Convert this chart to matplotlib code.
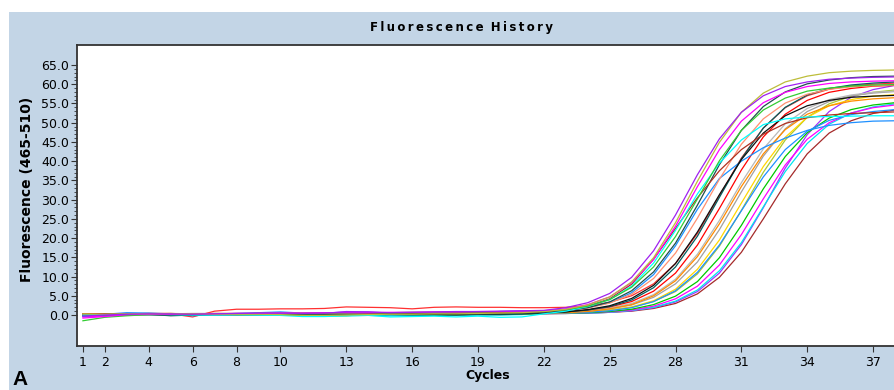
import matplotlib
matplotlib.use('Agg')
import matplotlib.pyplot as plt
from matplotlib.patches import Rectangle
from matplotlib.ticker import FormatStrFormatter

# cycles and fluorescence readings (465-510) per well
cycles = list(range(1, 39))

purple = [-0.3, 0.0, 0.2, 0.3, 0.3, 0.2, 0.3, 0.4, 0.5, 0.5, 0.4, 0.5, 0.8, 0.8, 0.6, 0.7, 0.8, 0.9, 0.9, 1.0, 1.1,
          1.2, 1.9, 3.2, 5.6, 9.8, 16.7, 26.0, 36.5, 45.8, 52.7, 57.0, 59.4, 60.6, 61.3, 61.6, 61.8, 61.9]
olive = [0.3, 0.2, 0.3, 0.3, 0.4, 0.3, 0.2, 0.2, 0.2, 0.1, -0.1, -0.1, 0.0, 0.1, 0.2, 0.2, 0.3, 0.3, 0.4, 0.5, 0.6,
         0.9, 1.5, 2.6, 4.7, 8.6, 14.9, 24.0, 34.8, 44.9, 52.7, 57.7, 60.6, 62.1, 63.0, 63.4, 63.6, 63.7]
magenta = [-0.8, -0.4, 0.1, 0.2, 0.2, 0.3, 0.3, 0.4, 0.4, 0.5, 0.5, 0.6, 0.6, 0.6, 0.7, 0.7, 0.8, 0.8, 0.9, 0.9, 1.0,
           1.1, 1.6, 2.7, 4.7, 8.4, 14.4, 23.1, 33.4, 43.0, 50.4, 55.2, 57.9, 59.4, 60.2, 60.6, 60.8, 60.9]
green = [-1.5, -0.6, -0.2, 0.1, 0.2, 0.3, 0.3, 0.3, 0.4, 0.4, 0.4, 0.5, 0.5, 0.6, 0.6, 0.7, 0.7, 0.8, 0.8, 0.9, 0.9,
         1.0, 1.4, 2.3, 4.0, 7.2, 12.5, 20.4, 30.2, 40.1, 48.0, 53.3, 56.4, 58.2, 59.0, 59.5, 59.8, 59.9]
cyan = [0.0, 0.1, 0.2, 0.2, 0.1, 0.0, 0.0, 0.1, 0.0, -0.1, -0.4, -0.4, -0.2, -0.1, -0.5, -0.4, -0.3, -0.5, -0.3, -0.6, -0.5,
        0.3, 1.0, 2.2, 4.0, 7.5, 13.5, 22.0, 31.5, 39.5, 45.5, 49.5, 51.0, 51.5, 51.6, 51.7, 51.8, 51.8]
brown = [0.2, 0.3, 0.3, 0.2, 0.2, 0.3, 0.3, 0.3, 0.4, 0.4, 0.4, 0.5, 0.5, 0.5, 0.6, 0.6, 0.6, 0.7, 0.7, 0.7, 0.8,
         0.9, 1.4, 2.3, 4.2, 8.0, 14.5, 22.5, 30.5, 37.5, 43.0, 47.0, 49.8, 51.3, 52.0, 52.4, 52.6, 52.8]
slate = [0.0, 0.2, 0.2, 0.2, -0.2, 0.0, 0.1, 0.1, 0.1, 0.2, 0.2, 0.2, 0.1, 0.2, 0.2, 0.3, 0.3, 0.3, 0.2, 0.3, 0.5,
         0.7, 1.1, 1.9, 3.4, 6.3, 11.2, 18.7, 28.6, 39.1, 48.0, 54.2, 58.0, 60.1, 61.1, 61.7, 62.0, 62.1]
salmon = [0.1, 0.2, 0.3, 0.2, 0.3, 0.3, 0.4, 0.4, 0.4, 0.5, 0.5, 0.5, 0.5, 0.6, 0.6, 0.6, 0.6, 0.7, 0.7, 0.7, 0.8,
          0.8, 1.2, 1.8, 3.1, 5.4, 9.5, 16.1, 25.2, 35.3, 44.4, 51.0, 55.1, 57.4, 58.7, 59.3, 59.6, 59.8]
black = [0.0, 0.1, 0.1, 0.2, 0.2, 0.1, 0.2, 0.2, 0.2, 0.3, 0.3, 0.2, 0.1, 0.2, 0.3, 0.2, 0.2, 0.1, 0.2, 0.3, 0.5,
         0.6, 0.8, 1.4, 2.4, 4.3, 7.7, 13.4, 21.6, 31.3, 40.4, 47.3, 51.8, 54.4, 55.8, 56.6, 56.9, 57.1]
dblue = [-0.3, 0.2, 0.6, 0.5, 0.3, -0.2, 0.2, 0.4, 0.6, 0.8, 0.5, 0.4, 0.4, 0.5, 0.5, 0.6, 0.5, 0.6, 0.7, 0.9, 1.0,
         0.8, 1.2, 1.9, 3.2, 5.8, 10.5, 18.0, 27.5, 35.5, 40.0, 43.5, 46.0, 48.0, 49.3, 50.0, 50.4, 50.5]
red = [0.3, 0.3, 0.3, 0.4, 0.4, 0.2, 0.1, 0.2, 0.3, 0.3, 0.3, 0.3, 0.4, 0.4, 0.4, 0.4, 0.5, 0.5, 0.5, 0.5, 0.6,
       0.7, 0.9, 1.3, 2.1, 3.5, 6.2, 10.9, 18.2, 27.7, 37.7, 46.3, 52.2, 55.8, 57.9, 58.9, 59.5, 59.7]
orange = [0.1, 0.2, 0.2, 0.3, 0.2, 0.2, 0.2, 0.2, 0.3, 0.3, 0.3, 0.3, 0.2, 0.2, 0.3, 0.3, 0.3, 0.3, 0.3, 0.4, 0.4,
          0.5, 0.6, 0.9, 1.6, 2.7, 5.0, 8.9, 15.2, 23.7, 33.4, 41.9, 48.2, 52.2, 54.4, 55.6, 56.2, 56.5]
gray = [0.2, 0.2, 0.3, 0.3, 0.3, 0.4, 0.4, 0.4, 0.4, 0.4, 0.5, 0.5, 0.5, 0.5, 0.5, 0.6, 0.6, 0.6, 0.6, 0.6, 0.7,
        0.7, 0.8, 1.0, 1.6, 2.6, 4.6, 8.1, 13.8, 22.2, 32.0, 41.3, 48.4, 52.9, 55.5, 57.0, 57.7, 58.1]
blue = [0.1, 0.2, 0.2, 0.1, 0.1, 0.2, 0.2, 0.2, 0.3, 0.3, 0.2, 0.2, 0.2, 0.2, 0.3, 0.3, 0.4, 0.3, 0.3, 0.3, 0.4,
        0.4, 0.5, 0.7, 1.1, 1.9, 3.5, 6.3, 11.1, 18.2, 27.1, 35.9, 43.0, 47.8, 50.6, 52.1, 52.9, 53.4]
gold = [0.0, 0.1, 0.1, 0.1, 0.1, 0.2, 0.2, 0.1, 0.1, 0.1, 0.0, 0.0, 0.1, 0.1, 0.2, 0.2, 0.1, 0.1, 0.2, 0.2, 0.3,
        0.4, 0.5, 0.8, 1.2, 2.1, 3.7, 6.7, 11.9, 19.5, 29.1, 38.6, 46.2, 51.4, 54.4, 56.0, 56.9, 57.3]
ygreen = [0.1, 0.2, 0.2, 0.2, 0.2, 0.3, 0.3, 0.3, 0.3, 0.3, 0.3, -0.2, -0.2, 0.2, 0.2, 0.3, 0.3, 0.4, 0.3, 0.4, 0.5,
          0.6, 0.7, 0.9, 1.3, 2.0, 3.5, 6.1, 10.7, 17.9, 27.2, 37.1, 45.5, 51.4, 54.9, 56.9, 57.9, 58.5]
green2 = [-0.2, 0.1, 0.2, 0.2, 0.3, 0.2, 0.2, 0.3, 0.3, 0.3, 0.3, 0.3, 0.3, 0.3, 0.4, 0.4, 0.4, 0.3, 0.3, 0.3, 0.3,
          0.4, 0.5, 0.6, 0.9, 1.5, 2.7, 4.9, 8.7, 14.9, 23.3, 32.8, 41.2, 47.4, 51.2, 53.4, 54.6, 55.2]
magenta2 = [-0.5, -0.3, 0.1, 0.1, 0.2, 0.2, 0.2, 0.2, 0.3, 0.3, 0.3, 0.3, 0.6, 0.6, 0.4, 0.5, 0.6, 0.5, 0.5, 0.5, 0.5,
            0.4, 0.5, 0.6, 0.8, 1.3, 2.3, 4.2, 7.5, 13.0, 20.9, 30.2, 39.0, 45.7, 50.0, 52.5, 53.9, 54.6]
cyan2 = [0.0, 0.0, 0.1, 0.1, 0.1, 0.1, 0.0, 0.0, 0.0, -0.1, -0.1, -0.2, -0.2, -0.1, -0.2, -0.2, -0.1, -0.1, 0.0, 0.0, 0.1,
         0.4, 0.4, 0.5, 0.7, 1.2, 2.0, 3.6, 6.5, 11.5, 18.8, 28.1, 37.3, 44.6, 49.6, 52.5, 54.1, 54.9]
violet = [-0.4, -0.1, 0.1, 0.2, 0.2, 0.2, 0.3, 0.3, 0.3, 0.3, 0.4, 0.4, 0.9, 0.8, 0.5, 0.5, 0.5, 0.5, 0.6, 0.6, 0.6,
          0.4, 0.4, 0.5, 0.7, 1.1, 1.9, 3.4, 6.1, 10.9, 18.3, 27.9, 38.2, 46.9, 52.9, 56.6, 58.6, 59.7]
darkred = [0.1, 0.2, 0.2, 0.2, 0.2, 0.3, 0.3, 0.3, 0.3, 0.3, 0.3, 0.3, 0.3, 0.3, 0.3, 0.3, 0.3, 0.2, 0.2, 0.2, 0.3,
           0.3, 0.4, 0.5, 0.7, 1.0, 1.7, 3.0, 5.5, 9.8, 16.3, 25.0, 34.1, 41.9, 47.3, 50.5, 52.4, 53.3]
red2 = [0.2, 0.3, 0.3, 0.4, 0.3, -0.5, 1.0, 1.5, 1.5, 1.6, 1.6, 1.7, 2.1, 2.0, 1.9, 1.6, 2.0, 2.1, 2.0, 2.0, 1.9,
        1.9, 2.0, 2.4, 3.3, 5.0, 8.1, 13.4, 21.2, 31.0, 40.8, 48.6, 53.9, 57.0, 58.7, 59.6, 60.0, 60.3]
lgray = [0.2, 0.2, 0.3, 0.3, 0.3, 0.3, 0.4, 0.4, 0.4, 0.4, 0.4, 0.4, 0.5, 0.5, 0.5, 0.5, 0.5, 0.6, 0.6, 0.6, 0.6,
         0.7, 0.8, 1.2, 1.8, 3.0, 5.3, 9.3, 15.8, 24.6, 34.4, 43.2, 49.7, 53.7, 56.0, 57.2, 57.9, 58.2]
teal = [0.0, 0.1, 0.1, 0.1, 0.0, 0.0, 0.1, 0.1, 0.1, 0.1, 0.0, 0.0, 0.1, 0.1, 0.1, 0.0, 0.0, 0.0, 0.1, 0.1, 0.2,
        0.5, 0.8, 1.3, 2.2, 3.9, 7.1, 12.5, 20.5, 30.6, 40.6, 48.6, 54.0, 57.2, 58.9, 59.8, 60.3, 60.6]

wells = [darkred, violet, cyan2, magenta2, green2, ygreen, gold, blue, gray, lgray, orange, red, red2,
         dblue, teal, black, salmon, slate, brown, cyan, green, magenta, olive, purple]
colors = ['#A52A2A', '#A030FF', '#00E5EE', '#FF00FF', '#00C800', '#A8C832', '#FFD700', '#1E90FF',
          '#A0A0A0', '#B8B8B8', '#FF8C00', '#FF0000', '#FF3030', '#1E90FF', '#006060', '#101010',
          '#FF9070', '#1F4F4F', '#B03020', '#00FFFF', '#33CC33', '#FF00FF', '#BDBD3A', '#A020F0']

xticks = [1, 2, 4, 6, 8, 10, 13, 16, 19, 22, 25, 28, 31, 34, 37]
yticks = list(range(0, 66, 5))

panel = '#C3D5E6'
edge = '#333333'

fig = plt.figure(figsize=(8.95, 3.9), dpi=100)
fig.patch.set_facecolor('white')
fig.add_artist(Rectangle((9 / 895, 0), 1, 378 / 390, transform=fig.transFigure,
                         facecolor=panel, edgecolor='none', zorder=0))

ax = fig.add_axes([77 / 895, 44 / 390, 818 / 895, 301 / 390])
ax.set_facecolor('white')
for vals, c in zip(wells, colors):
    ax.plot(cycles, vals, color=c, lw=0.9)

ax.set_xlim(0.73, 38.0)
ax.set_ylim(-8.06, 70.2)
ax.set_xticks(xticks)
ax.set_yticks(yticks)
ax.set_yticks([v for v in range(0, 66)], minor=True)
ax.yaxis.set_major_formatter(FormatStrFormatter('%.1f'))

for s in ['left', 'top', 'bottom']:
    ax.spines[s].set_color(edge)
    ax.spines[s].set_linewidth(1.3)
ax.spines['right'].set_visible(False)

ax.tick_params(axis='both', which='major', direction='out', length=4, width=0.8,
               color=edge, labelsize=9, pad=1.5)
ax.tick_params(axis='y', which='minor', direction='out', length=2, width=0.6, color=edge)
ax.tick_params(axis='x', pad=3)

ax.set_ylabel('Fluorescence (465-510)', fontsize=10, fontweight='bold')
ax.yaxis.set_label_coords(-0.052, 0.52)

title = '\u2009'.join('Fluorescence') + '\u2009\u2009\u2009' + '\u2009'.join('History')
fig.text(462 / 895, 1 - 27 / 390, title, ha='center', va='center', fontsize=8.5, fontweight='bold')
fig.text(488 / 895, 1 - 376 / 390, 'Cycles', ha='center', va='center', fontsize=9, fontweight='bold')
fig.text(12 / 895, 1 / 390, 'A', ha='left', va='bottom', fontsize=15, fontweight='bold',
         family='Liberation Sans')

fig.savefig('out.png', dpi=100, facecolor=fig.get_facecolor())
